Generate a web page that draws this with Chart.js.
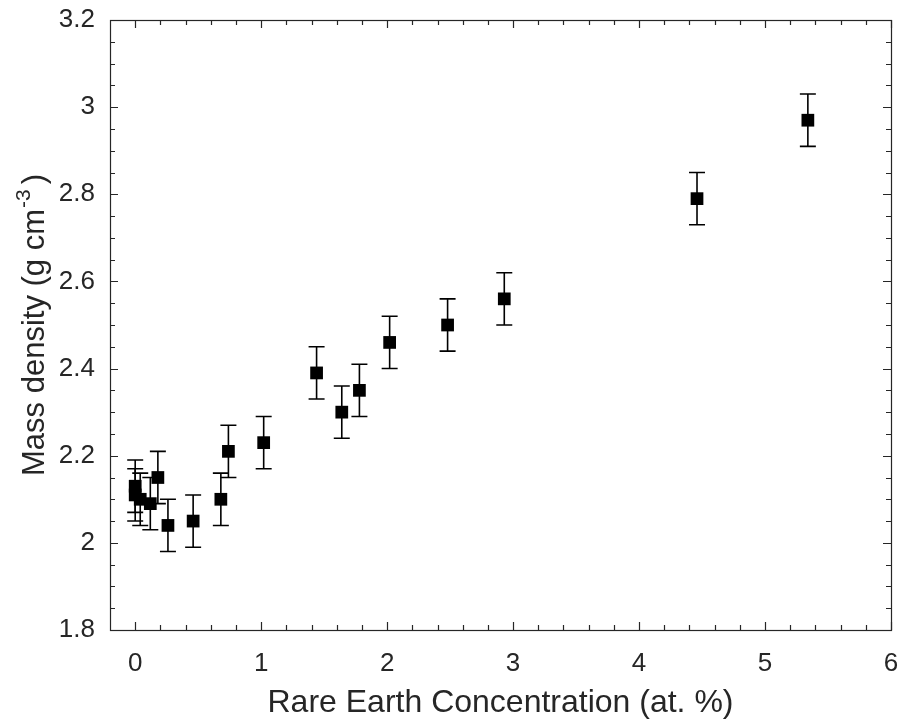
<!DOCTYPE html>
<html lang="en">
<head>
    <meta charset="UTF-8">
    <title>Mass density vs Rare Earth Concentration</title>
    <script src="https://cdn.jsdelivr.net/npm/chart.js"></script>
    <style>
        body { margin: 0; background: #fff; }
        #wrap { width: 904px; height: 720px; }
    </style>
</head>
<body>
<div id="wrap"><canvas id="chart_density" width="904" height="720"></canvas></div>

<script>
// Data
const concentration = [0.00, 0.00, 0.04, 0.12, 0.18, 0.26, 0.46, 0.68, 0.74, 1.02, 1.44, 1.64, 1.78, 2.02, 2.48, 2.93, 4.46, 5.34];
const density       = [2.13, 2.11, 2.10, 2.09, 2.15, 2.04, 2.05, 2.10, 2.21, 2.23, 2.39, 2.30, 2.35, 2.46, 2.50, 2.56, 2.79, 2.97];
const densityError  = [0.06, 0.06, 0.06, 0.06, 0.06, 0.06, 0.06, 0.06, 0.06, 0.06, 0.06, 0.06, 0.06, 0.06, 0.06, 0.06, 0.06, 0.06];
const xTicks = [0, 1, 2, 3, 4, 5, 6];
const yTicks = [1.8, 2.0, 2.2, 2.4, 2.6, 2.8, 3.0, 3.2];

const axisColor = '#262626';
const fontFamily = '"Liberation Sans", Arial, sans-serif';

// Error bars, drawn through the scales before the markers
const errorBars = {
    id: 'errorBars',
    beforeDatasetsDraw(chart) {
        const { ctx, scales: { x, y } } = chart;
        ctx.save();
        ctx.strokeStyle = '#000';
        ctx.lineWidth = 1.6;
        concentration.forEach((c, i) => {
            const px = x.getPixelForValue(c);
            const top = y.getPixelForValue(density[i] + densityError[i]);
            const bot = y.getPixelForValue(density[i] - densityError[i]);
            ctx.beginPath();
            ctx.moveTo(px, top); ctx.lineTo(px, bot);
            ctx.moveTo(px - 8, top); ctx.lineTo(px + 8, top);
            ctx.moveTo(px - 8, bot); ctx.lineTo(px + 8, bot);
            ctx.stroke();
        });
        ctx.restore();
    }
};

// Box with inward major/minor ticks and the axis titles
const boxAxes = {
    id: 'boxAxes',
    afterDraw(chart) {
        const { ctx, chartArea: a, scales: { x, y } } = chart;
        ctx.save();
        ctx.strokeStyle = axisColor;
        ctx.lineWidth = 1.2;
        ctx.strokeRect(Math.round(a.left) + 0.5, Math.round(a.top) + 0.5,
                       Math.round(a.right - a.left), Math.round(a.bottom - a.top));
        ctx.beginPath();
        for (let v = 0; v <= 30; v++) {
            const px = Math.round(x.getPixelForValue(v * 0.2)) + 0.5;
            const len = v % 5 === 0 ? 8 : 5;
            ctx.moveTo(px, a.bottom); ctx.lineTo(px, a.bottom - len);
            ctx.moveTo(px, a.top); ctx.lineTo(px, a.top + len);
        }
        for (let v = 0; v <= 28; v++) {
            const py = Math.round(y.getPixelForValue(1.8 + v * 0.05)) + 0.5;
            const len = v % 4 === 0 ? 8 : 5;
            ctx.moveTo(a.left, py); ctx.lineTo(a.left + len, py);
            ctx.moveTo(a.right, py); ctx.lineTo(a.right - len, py);
        }
        ctx.stroke();

        ctx.fillStyle = axisColor;
        // x title
        ctx.font = '32px ' + fontFamily;
        ctx.textAlign = 'center';
        ctx.textBaseline = 'alphabetic';
        ctx.fillText('Rare Earth Concentration (at. %)', (a.left + a.right) / 2, 712);

        // y title with superscript
        ctx.translate(44, (a.top + a.bottom) / 2);
        ctx.rotate(-Math.PI / 2);
        const main = 'Mass density (g cm';
        const sup = '-3';
        const tail = ')';
        ctx.font = '31px ' + fontFamily;
        const w1 = ctx.measureText(main).width;
        const w3 = ctx.measureText(tail).width;
        ctx.font = '21px ' + fontFamily;
        const w2 = ctx.measureText(sup).width;
        let sx = -(w1 + w2 + w3 + 6) / 2;
        ctx.textAlign = 'left';
        ctx.font = '31px ' + fontFamily;
        ctx.fillText(main, sx, 0);
        ctx.font = '21px ' + fontFamily;
        ctx.fillText(sup, sx + w1 + 1, -14);
        ctx.font = '31px ' + fontFamily;
        ctx.fillText(tail, sx + w1 + w2 + 6, 0);
        ctx.restore();
    }
};

new Chart(document.getElementById('chart_density').getContext('2d'), {
    type: 'scatter',
    data: {
        datasets: [{
            data: concentration.map((c, i) => ({ x: c, y: density[i] })),
            pointStyle: 'rect',
            pointRadius: 9,
            pointHoverRadius: 9,
            backgroundColor: '#000',
            borderColor: '#000',
            borderWidth: 0
        }]
    },
    options: {
        responsive: false,
        animation: false,
        layout: { padding: { top: 20, right: 13, left: 0, bottom: 0 } },
        plugins: { legend: { display: false }, tooltip: { enabled: false } },
        scales: {
            x: {
                type: 'linear', min: -0.2, max: 6,
                afterBuildTicks: s => { s.ticks = xTicks.map(v => ({ value: v })); },
                afterFit: s => { s.height = 90; s.paddingLeft = 0; s.paddingRight = 0; },
                grid: { display: false, drawTicks: false },
                border: { display: false },
                ticks: { color: axisColor, padding: 18, font: { family: fontFamily, size: 26 },
                         callback: v => String(v) }
            },
            y: {
                type: 'linear', min: 1.8, max: 3.2,
                afterBuildTicks: s => { s.ticks = yTicks.map(v => ({ value: v })); },
                afterFit: s => { s.width = 110; s.paddingTop = 0; s.paddingBottom = 0; },
                grid: { display: false, drawTicks: false },
                border: { display: false },
                ticks: { color: axisColor, padding: 15, font: { family: fontFamily, size: 26 },
                         callback: v => String(Number(v.toFixed(1))) }
            }
        }
    },
    plugins: [errorBars, boxAxes]
});
</script>
</body>
</html>
